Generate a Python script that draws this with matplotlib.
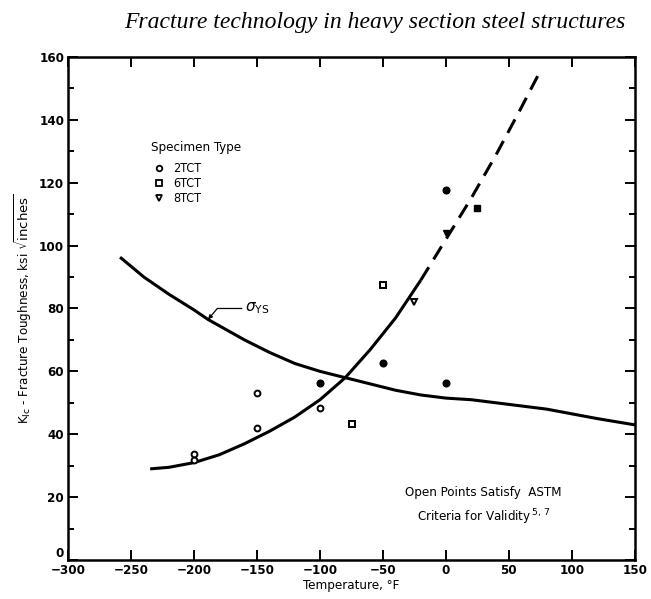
import matplotlib.pyplot as plt
from matplotlib.lines import Line2D

# K_Ic trend: solid part, then dashed extrapolation
kic_temp = [-235, -220, -200, -180, -160, -140, -120, -100, -80, -60, -40, -20]
kic_val = [29, 29.5, 31, 33.5, 37, 41, 45.5, 51, 58, 67, 77, 89]
kic_ext_temp = [-20, 0, 20, 40, 60, 73]
kic_ext_val = [89, 102, 115, 129, 144, 154]

# yield strength curve
ys_temp = [-258, -240, -220, -200, -189, -160, -140, -120, -100, -80, -60,
           -40, -20, 0, 20, 40, 60, 80, 100, 120, 150]
ys_val = [96, 90, 84.5, 79.5, 76.5, 70, 66, 62.5, 60, 58, 56,
          54, 52.5, 51.5, 51, 50, 49, 48, 46.5, 45, 43]

# specimen results (open = valid, filled = not valid)
tct2_temp = [-200, -200, -150, -150, -100]
tct2_val = [33.7, 31.7, 53, 42, 48.3]
tct6_temp = [-75, -50]
tct6_val = [43.3, 87.6]
tct8_temp = [-25]
tct8_val = [82]
tct2_bad_temp = [-100, -50, 0, 0]
tct2_bad_val = [56.4, 62.8, 56.3, 117.7]
tct6_bad_temp = [25]
tct6_bad_val = [112]
tct8_bad_temp = [0]
tct8_bad_val = [104]

narrow = dict(family="DejaVu Sans", stretch="condensed")

fig = plt.figure(figsize=(6.51, 5.99), dpi=100)
ax = fig.add_axes([0.105, 0.065, 0.87, 0.84])

ax.plot(kic_temp, kic_val, color="black", lw=2.2, solid_capstyle="butt")
ax.plot(kic_ext_temp, kic_ext_val, color="black", lw=2.2, ls=(0, (5, 3)))
ax.plot(ys_temp, ys_val, color="black", lw=2.2)

ms = 4.2
ax.plot(tct2_temp, tct2_val, "o", ms=ms, mfc="white", mec="black", mew=1.4)
ax.plot(tct6_temp, tct6_val, "s", ms=ms, mfc="white", mec="black", mew=1.4)
ax.plot(tct8_temp, tct8_val, "v", ms=ms + 0.8, mfc="white", mec="black", mew=1.4)
ax.plot(tct2_bad_temp, tct2_bad_val, "o", ms=ms + 0.6, color="black")
ax.plot(tct6_bad_temp, tct6_bad_val, "s", ms=ms + 0.3, color="black")
ax.plot(tct8_bad_temp, tct8_bad_val, "v", ms=ms + 0.6, color="black")

ax.annotate(r"$\sigma_{\rm YS}$", xy=(-189, 76.5), xytext=(-160, 80),
            fontsize=11, va="center",
            arrowprops=dict(arrowstyle="-|>", color="black", lw=0.9,
                            mutation_scale=6,
                            connectionstyle="angle,angleA=0,angleB=50,rad=0",
                            shrinkA=0, shrinkB=0))

ax.text(30, 21.5, "Open Points Satisfy  ASTM", ha="center", va="center",
        fontsize=9.5, **narrow)
ax.text(30, 13.5, r"Criteria for Validity$^{\,5,\,7}$", ha="center",
        va="center", fontsize=9.5, **narrow)

handles = [
    Line2D([], [], ls="none", marker="o", ms=4, mfc="white", mec="black", mew=1.3),
    Line2D([], [], ls="none", marker="s", ms=4, mfc="white", mec="black", mew=1.3),
    Line2D([], [], ls="none", marker="v", ms=5, mfc="white", mec="black", mew=1.3),
]
leg = ax.legend(handles, ["2TCT", "6TCT", "8TCT"], title="Specimen Type",
                loc="upper left", bbox_to_anchor=(0.135, 0.845), frameon=False,
                alignment="left", handlelength=1.2, handletextpad=0.6,
                labelspacing=0.15, borderpad=0,
                prop={"family": "DejaVu Sans", "stretch": "condensed", "size": 9})
leg.get_title().set_fontfamily("DejaVu Sans")
leg.get_title().set_fontstretch("condensed")
leg.get_title().set_fontsize(9.5)
leg._legend_box.sep = 6

ax.set_xlim(-300, 150)
ax.set_ylim(0, 160)
ax.set_xticks(range(-300, 151, 50))
ax.set_yticks(range(0, 161, 20))
ax.set_yticks(range(10, 160, 20), minor=True)
ax.tick_params(which="both", direction="in", top=True, right=True, width=1.4)
ax.tick_params(which="major", length=7, labelsize=9.5, pad=3)
ax.tick_params(which="minor", length=4)
for lab in ax.get_xticklabels() + ax.get_yticklabels():
    lab.set_fontfamily("DejaVu Sans")
    lab.set_fontstretch("condensed")
    lab.set_fontweight("bold")
ax.get_yticklabels()[0].set_verticalalignment("bottom")
for s in ax.spines.values():
    s.set_linewidth(1.8)

ax.set_xlabel("Temperature, °F", fontsize=9.5, labelpad=1, **narrow)
ax.set_ylabel(r"K$_{\rm Ic}$ - Fracture Toughness, ksi $\sqrt{\rm inches}$",
              fontsize=9.5, labelpad=4, **narrow)

fig.text(0.575, 0.962, "Fracture technology in heavy section steel structures",
         ha="center", va="center", fontsize=17, style="italic",
         family=["Liberation Serif", "DejaVu Serif"])

fig.savefig("out.png", dpi=100)
